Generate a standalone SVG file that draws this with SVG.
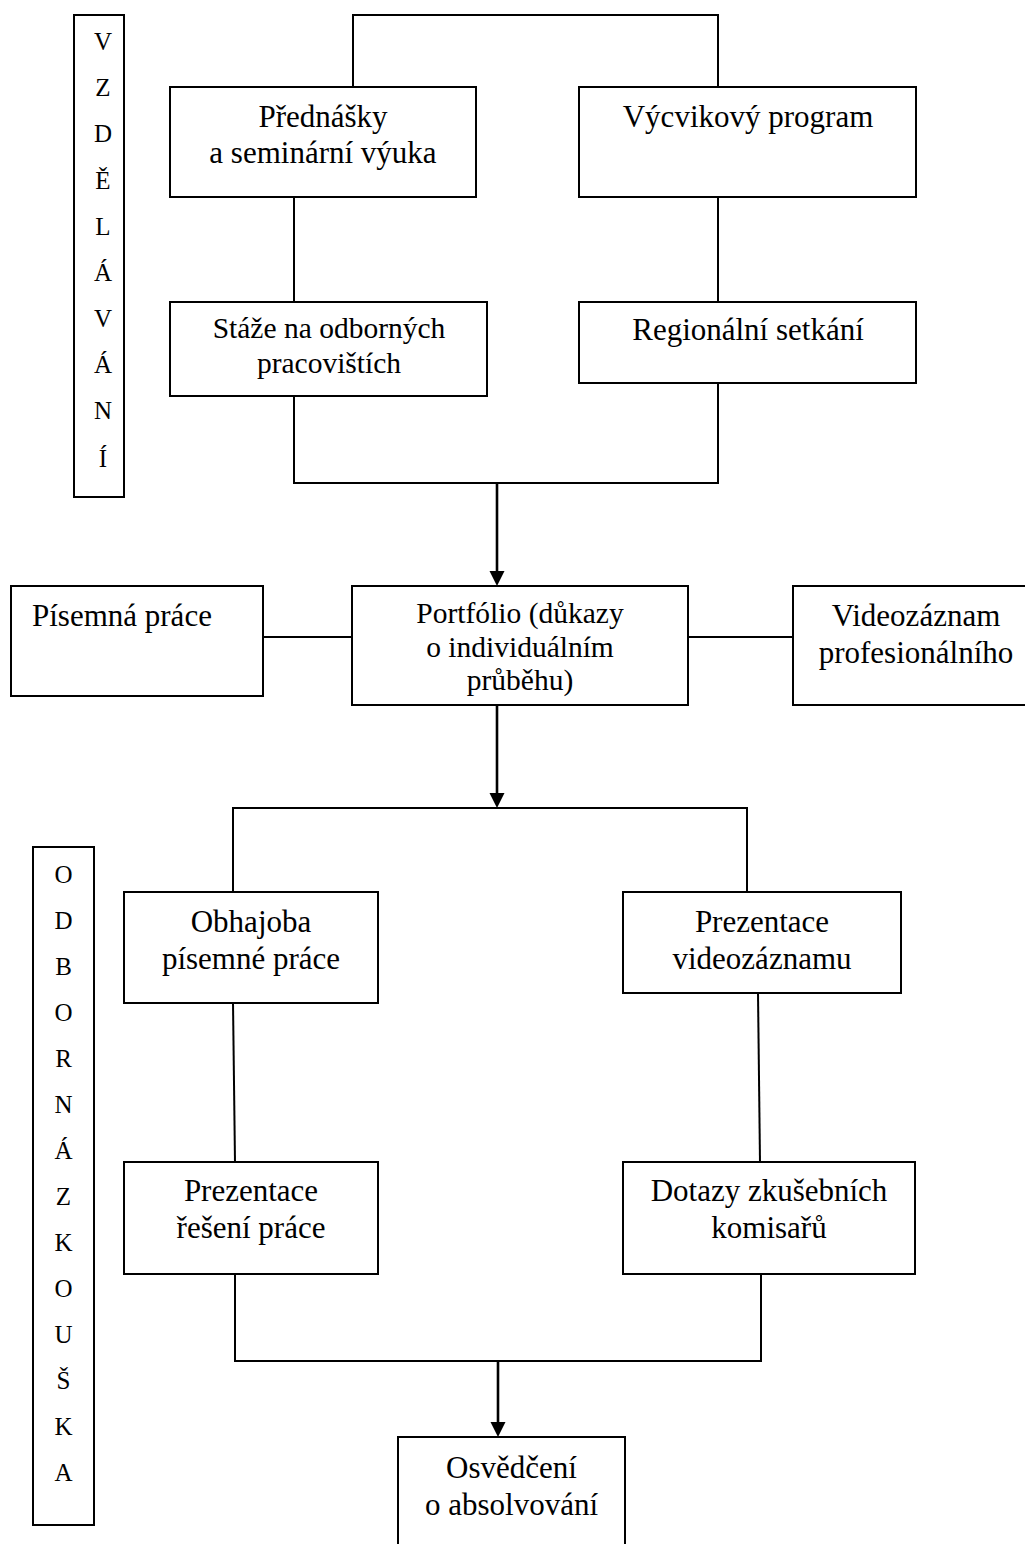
<svg xmlns="http://www.w3.org/2000/svg" width="1025" height="1544" viewBox="0 0 1025 1544">
<style>
  .box { fill: #ffffff; stroke: #000000; stroke-width: 2; }
  .ln { fill: none; stroke: #000000; stroke-width: 2; }
  .arr { fill: none; stroke: #000000; stroke-width: 2.6; }
  text { font-family: "Liberation Serif", "Times New Roman", serif; fill: #000000; }
  .t { font-size: 31px; text-anchor: middle; }
  .ts { font-size: 29.5px; text-anchor: middle; }
  .v { font-size: 25px; text-anchor: middle; }
</style>
<defs>
  <marker id="ah" markerUnits="userSpaceOnUse" markerWidth="16" markerHeight="16" refX="0" refY="7.5" orient="auto">
    <path d="M0,0 L15,7.5 L0,15 z" fill="#000000"/>
  </marker>
</defs>
<rect width="1025" height="1544" fill="#ffffff"/>

<g id="connectors">
  <path class="ln" d="M353,87 V15 H718 V87"/>
  <path class="ln" d="M294,197 V302"/>
  <path class="ln" d="M718,197 V302"/>
  <path class="ln" d="M294,396 V483 H718 V383"/>
  <path class="arr" d="M497,483 V571" marker-end="url(#ah)"/>
  <path class="ln" d="M263,637 H352"/>
  <path class="ln" d="M688,637 H793"/>
  <path class="arr" d="M497,705 V793" marker-end="url(#ah)"/>
  <path class="ln" d="M233,892 V808 H747 V892"/>
  <path class="ln" d="M233,1003 L235,1162"/>
  <path class="ln" d="M758,993 L760,1162"/>
  <path class="ln" d="M235,1274 V1361 H761 V1274"/>
  <path class="arr" d="M498,1361 V1422" marker-end="url(#ah)"/>
</g>

<g id="vzdelavani">
  <rect class="box" x="74" y="15" width="50" height="482"/>
  <text class="v" x="103" y="50">V</text>
  <text class="v" x="103" y="96">Z</text>
  <text class="v" x="103" y="142">D</text>
  <text class="v" x="103" y="189">Ě</text>
  <text class="v" x="103" y="235">L</text>
  <text class="v" x="103" y="281">Á</text>
  <text class="v" x="103" y="327">V</text>
  <text class="v" x="103" y="373">Á</text>
  <text class="v" x="103" y="419">N</text>
  <text class="v" x="103" y="467">Í</text>
</g>

<g id="prednasky">
  <rect class="box" x="170" y="87" width="306" height="110"/>
  <text class="t" x="323" y="127">Přednášky</text>
  <text class="t" x="323" y="163">a seminární výuka</text>
</g>

<g id="vycvikovy">
  <rect class="box" x="579" y="87" width="337" height="110"/>
  <text class="t" x="748" y="127">Výcvikový program</text>
</g>

<g id="staze">
  <rect class="box" x="170" y="302" width="317" height="94"/>
  <text class="ts" x="329" y="338">Stáže na odborných</text>
  <text class="ts" x="329" y="373">pracovištích</text>
</g>

<g id="regionalni">
  <rect class="box" x="579" y="302" width="337" height="81"/>
  <text class="t" x="748" y="340">Regionální setkání</text>
</g>

<g id="pisemna">
  <rect class="box" x="11" y="586" width="252" height="110"/>
  <text x="32" y="626" style="font-size:31px">Písemná práce</text>
</g>

<g id="portfolio">
  <rect class="box" x="352" y="586" width="336" height="119"/>
  <text class="ts" x="520" y="623">Portfólio (důkazy</text>
  <text class="ts" x="520" y="657">o individuálním</text>
  <text class="ts" x="520" y="690">průběhu)</text>
</g>

<g id="videozaznam">
  <rect class="box" x="793" y="586" width="250" height="119"/>
  <text class="t" x="916" y="626">Videozáznam</text>
  <text class="t" x="916" y="663">profesionálního</text>
</g>

<g id="odborna">
  <rect class="box" x="33" y="847" width="61" height="678"/>
  <text class="v" x="63.5" y="883">O</text>
  <text class="v" x="63.5" y="929">D</text>
  <text class="v" x="63.5" y="975">B</text>
  <text class="v" x="63.5" y="1021">O</text>
  <text class="v" x="63.5" y="1067">R</text>
  <text class="v" x="63.5" y="1113">N</text>
  <text class="v" x="63.5" y="1159">Á</text>
  <text class="v" x="63.5" y="1205">Z</text>
  <text class="v" x="63.5" y="1251">K</text>
  <text class="v" x="63.5" y="1297">O</text>
  <text class="v" x="63.5" y="1343">U</text>
  <text class="v" x="63.5" y="1389">Š</text>
  <text class="v" x="63.5" y="1435">K</text>
  <text class="v" x="63.5" y="1481">A</text>
</g>

<g id="obhajoba">
  <rect class="box" x="124" y="892" width="254" height="111"/>
  <text class="t" x="251" y="932">Obhajoba</text>
  <text class="t" x="251" y="969">písemné práce</text>
</g>

<g id="prezentace-videa">
  <rect class="box" x="623" y="892" width="278" height="101"/>
  <text class="t" x="762" y="932">Prezentace</text>
  <text class="t" x="762" y="969">videozáznamu</text>
</g>

<g id="prezentace-reseni">
  <rect class="box" x="124" y="1162" width="254" height="112"/>
  <text class="t" x="251" y="1201">Prezentace</text>
  <text class="t" x="251" y="1238">řešení práce</text>
</g>

<g id="dotazy">
  <rect class="box" x="623" y="1162" width="292" height="112"/>
  <text class="t" x="769" y="1201">Dotazy zkušebních</text>
  <text class="t" x="769" y="1238">komisařů</text>
</g>

<g id="osvedceni">
  <rect class="box" x="398" y="1437" width="227" height="130"/>
  <text class="t" x="511.5" y="1478">Osvědčení</text>
  <text class="t" x="511.5" y="1515">o absolvování</text>
</g>
</svg>
